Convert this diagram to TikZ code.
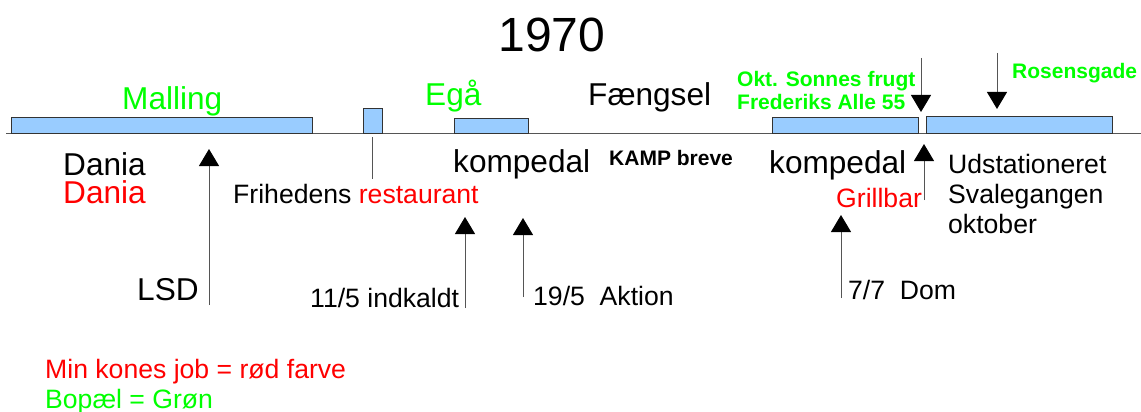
\documentclass[tikz,border=0pt]{standalone}
\usepackage{fontspec}
\setmainfont{Liberation Sans}
\usepackage{xcolor}
\usepackage{tikz}
\usetikzlibrary{shapes,arrows.meta,positioning,calc}
\definecolor{bopaelgreen}{HTML}{00FF00}
\definecolor{jobred}{HTML}{FF0000}
\definecolor{barblue}{HTML}{99CCFF}
\definecolor{bardraw}{HTML}{333333}
\definecolor{axisgray}{HTML}{555555}

\tikzset{
  bar/.style={fill=barblue, draw=bardraw, line width=1pt},
  big/.style={font=\fontsize{31.6}{36}\selectfont, inner sep=0pt, anchor=base west},
  mid/.style={font=\fontsize{26.6}{30}\selectfont, inner sep=0pt, anchor=base west},
  bold/.style={font=\bfseries\fontsize{21}{24}\selectfont, inner sep=0pt, anchor=base west},
  pil/.style={draw=axisgray, line width=1pt, -{Triangle[width=20pt,length=17pt,color=black]}},
}

\begin{document}
\begin{tikzpicture}[x=1pt,y=-1pt]
    \useasboundingbox (0,0) rectangle (1141,412);

    % Year
    \node[font=\fontsize{48}{52}\selectfont, inner sep=0pt, anchor=base] (year) at (552,52) {1970};

    % Time axis
    \coordinate (axis start) at (6,133);
    \coordinate (axis end) at (1141,133);
    \draw[axisgray, line width=1pt] (axis start) -- (axis end);

    % Malling
    \draw[bar] (11,117) rectangle (312,133);
    \node[big, text=bopaelgreen] (malling) at (122,110) {Malling};

    % Restaurant
    \draw[bar] (363,108) rectangle (382,133);
    \coordinate (resto top) at (372,137);
    \coordinate (resto foot) at (372,179);
    \draw[axisgray, line width=1pt] (resto top) -- (resto foot);

    % Egaa
    \draw[bar] (454,118) rectangle (528,133);
    \node[big, text=bopaelgreen] (ega) at (425,105) {Egå};
    \node[big] (faengsel) at (588,105) {Fængsel};

    % Okt. Sonnes frugt
    \draw[bar] (772,117) rectangle (918,133);
    \node[bold, text=bopaelgreen] (sonnes) at (737,86) {Okt. Sonnes frugt};
    \node[bold, text=bopaelgreen] (frederiks) at (737,110) {Frederiks Alle 55};
    \coordinate (okt top) at (921,58);
    \coordinate (okt tip) at (921,112);
    \draw[pil] (okt top) -- (okt tip);

    % Rosensgade
    \draw[bar] (926,116) rectangle (1112,133);
    \node[bold, text=bopaelgreen] (rosensgade) at (1012,79) {Rosensgade};
    \coordinate (rosen top) at (997,53);
    \coordinate (rosen tip) at (997,109);
    \draw[pil] (rosen top) -- (rosen tip);

    % Below the axis
    \node[big] (dania) at (63,175) {Dania};
    \node[big, text=jobred] (dania job) at (63,203) {Dania};
    \node[mid] (frihedens) at (233,203) {Frihedens \textcolor{jobred}{restaurant}};
    \node[big] (kompedal ega) at (453,172) {kompedal};
    \node[bold] (kamp) at (609,165) {KAMP breve};
    \node[big] (kompedal okt) at (769,173) {kompedal};
    \node[mid, text=jobred] (grillbar) at (836,207) {Grillbar};
    \node[mid] (udstationeret) at (948,173) {Udstationeret};
    \node[mid] (svalegangen) at (948,203) {Svalegangen};
    \node[mid] (oktober) at (948,233) {oktober};

    % Events
    \node[big] (lsd) at (137,300) {LSD};
    \coordinate (lsd foot) at (209,305);
    \coordinate (lsd tip) at (209,149);
    \draw[pil] (lsd foot) -- (lsd tip);

    \node[mid] (indkaldt) at (310,307) {11/5 indkaldt};
    \coordinate (indkaldt foot) at (465,308);
    \coordinate (indkaldt tip) at (465,217);
    \draw[pil] (indkaldt foot) -- (indkaldt tip);

    \node[mid] (aktion) at (533,305) {19/5\ \ Aktion};
    \coordinate (aktion foot) at (523,297);
    \coordinate (aktion tip) at (523,218);
    \draw[pil] (aktion foot) -- (aktion tip);

    \node[mid] (dom) at (848,299) {7/7\ \ Dom};
    \coordinate (dom foot) at (841,298);
    \coordinate (dom tip) at (841,215);
    \draw[pil] (dom foot) -- (dom tip);

    \coordinate (udst foot) at (924,200);
    \coordinate (udst tip) at (924,144);
    \draw[pil] (udst foot) -- (udst tip);

    % Legend
    \node[mid, text=jobred] (legend job) at (45,378) {Min kones job = rød farve};
    \node[mid, text=bopaelgreen] (legend bopael) at (45,408) {Bopæl = Grøn};
\end{tikzpicture}
\end{document}
